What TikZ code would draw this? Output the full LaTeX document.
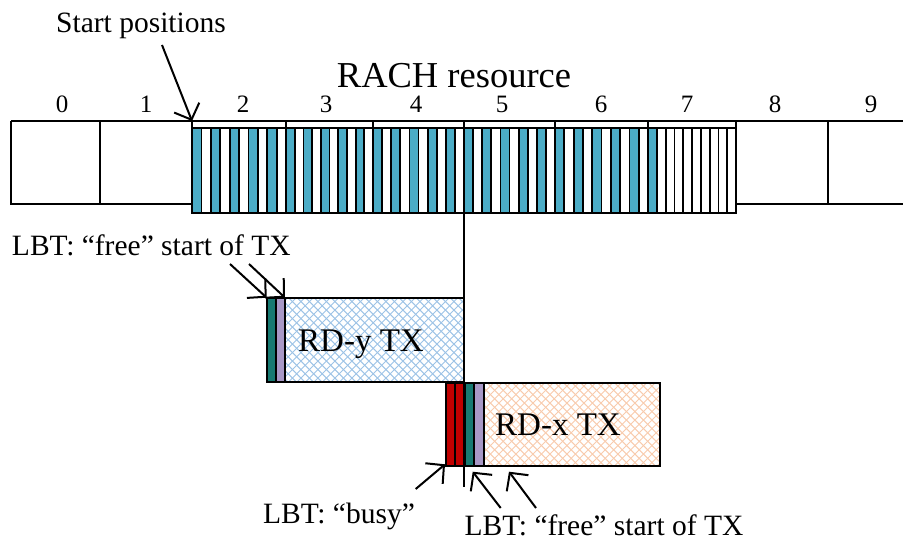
\documentclass[tikz,border=0pt]{standalone}
\usepackage{fontspec}
\setmainfont{Liberation Serif}
\usetikzlibrary{arrows.meta}
\definecolor{rachblue}{HTML}{4BACC6}
\definecolor{dteal}{HTML}{177A72}
\definecolor{lilac}{HTML}{A898C6}
\definecolor{dred}{HTML}{C00000}
\definecolor{hblue}{HTML}{9DC3E6}
\definecolor{horange}{HTML}{F8CBAD}
\newcommand{\hatchbox}[5]{%
  \begin{scope}
    \clip (#1,#2) rectangle (#3,#4);
    \foreach \d in {0,8.5,...,290} {
      \draw[#5, line width=1pt] ({#1-90+\d},#2) -- ++(90,90);
      \draw[#5, line width=1pt] ({#1-90+\d},#4) -- ++(90,-90);
    }
  \end{scope}}
\begin{document}
\begin{tikzpicture}[x=1pt,y=-1pt,line width=2pt,
  lbl/.style={inner sep=0pt,font=\fontsize{29.5}{31}\selectfont},
  biglbl/.style={inner sep=0pt,text depth=0pt,font=\fontsize{36.5}{38}\selectfont},
  txlbl/.style={inner sep=0pt,font=\fontsize{33}{35}\selectfont},
  digit/.style={inner sep=0pt,anchor=base,font=\fontsize{25}{27}\selectfont},
  ptr/.style={-{Straight Barb[length=13pt,width=27pt]},line width=2pt}]
\useasboundingbox (0,0) rectangle (903,540);
% stripes of the RACH resource
\foreach \a/\b [count=\s] in {192/286,286/373,373/464,464/555,555/648,648/736}{
  \foreach \k in {0,...,9}{
    \pgfmathsetmacro{\xa}{\a+\k*(\b-\a)/10}
    \pgfmathsetmacro{\xb}{\a+(\k+1)*(\b-\a)/10}
    \pgfmathtruncatemacro{\isteal}{(mod(\k,2)==0) && ((\s<6) || (\k==0)) ? 1 : 0}
    \ifnum\isteal=1 \def\fc{rachblue}\else\def\fc{white}\fi
    \draw[fill=\fc,line width=1.8pt] (\xa,128) rectangle (\xb,213);
  }
}
% outer subframe boxes
\draw (11,121) -- (903,121);
\draw (11,121) -- (11,204) -- (192,204);
\draw (100,121) -- (100,204);
\draw (736,204) -- (903,204);
\draw (828,121) -- (828,204);
\draw (192,121) -- (192,213) -- (736,213) -- (736,121);
\draw (192,128) -- (736,128);
\foreach \t in {286,373,555,648} \draw (\t,121) -- (\t,128);
\draw (464,121) -- (464,487);
% labels above
\node[lbl,anchor=base] (startlbl) at (141,33) {Start positions};
\node[biglbl,anchor=base] (rachlbl) at (454,88) {RACH resource};
\foreach \n/\x in {0/62,1/146,2/243,3/326,4/416,5/502,6/601,7/687,8/775,9/871}
  \node[digit] (d\n) at (\x,113) {\n};
% RD-y TX
\fill[dteal] (267,297.7) rectangle (276,382);
\fill[lilac] (276,297.7) rectangle (285,382);
\hatchbox{285}{297.7}{464}{382}{hblue}
\draw (267,297.7) rectangle (464,382);
\draw (276,297.7) -- (276,382);
\draw (285,297.7) -- (285,382);
\node[txlbl,anchor=base] (rdy) at (361,352) {RD-y TX};
% RD-x TX
\fill[dred] (445.5,382.7) rectangle (464,466);
\fill[dteal] (464,382.7) rectangle (474,466);
\fill[lilac] (474,382.7) rectangle (483.5,466);
\hatchbox{483.5}{382.7}{660}{466}{horange}
\draw (445.5,382.7) rectangle (660,466);
\foreach \t in {454.5,474,483.5} \draw (\t,382.7) -- (\t,466);
\draw[line width=3pt] (464,382.7) -- (464,466);
\node[txlbl,anchor=base] (rdx) at (558,435) {RD-x TX};
% text labels
\node[lbl,anchor=base west] (freetop) at (11,256) {LBT: “free” start of TX};
\node[lbl,anchor=base] (busy) at (339,523) {LBT: “busy”};
\node[lbl,anchor=base] (freebot) at (604,535) {LBT: “free” start of TX};
% pointer coordinates
\coordinate (sp0) at (162,45);   \coordinate (sp1) at (192,121);
\coordinate (ft0) at (230,264);  \coordinate (ft1) at (266.7,297.7);
\coordinate (ft2) at (249,264);  \coordinate (ft3) at (285,297.7);
\coordinate (bz0) at (415.7,489); \coordinate (bz1) at (445,464.3);
\coordinate (fb0) at (500.7,508); \coordinate (fb1) at (472.7,471.7);
\coordinate (fb2) at (536,508);   \coordinate (fb3) at (509,471.7);
\draw[ptr] (sp0) -- (sp1);
\draw[ptr] (ft0) -- (ft1);
\draw[ptr] (ft2) -- (ft3);
\draw[ptr] (bz0) -- (bz1);
\draw[ptr] (fb0) -- (fb1);
\draw[ptr] (fb2) -- (fb3);
\end{tikzpicture}
\end{document}
